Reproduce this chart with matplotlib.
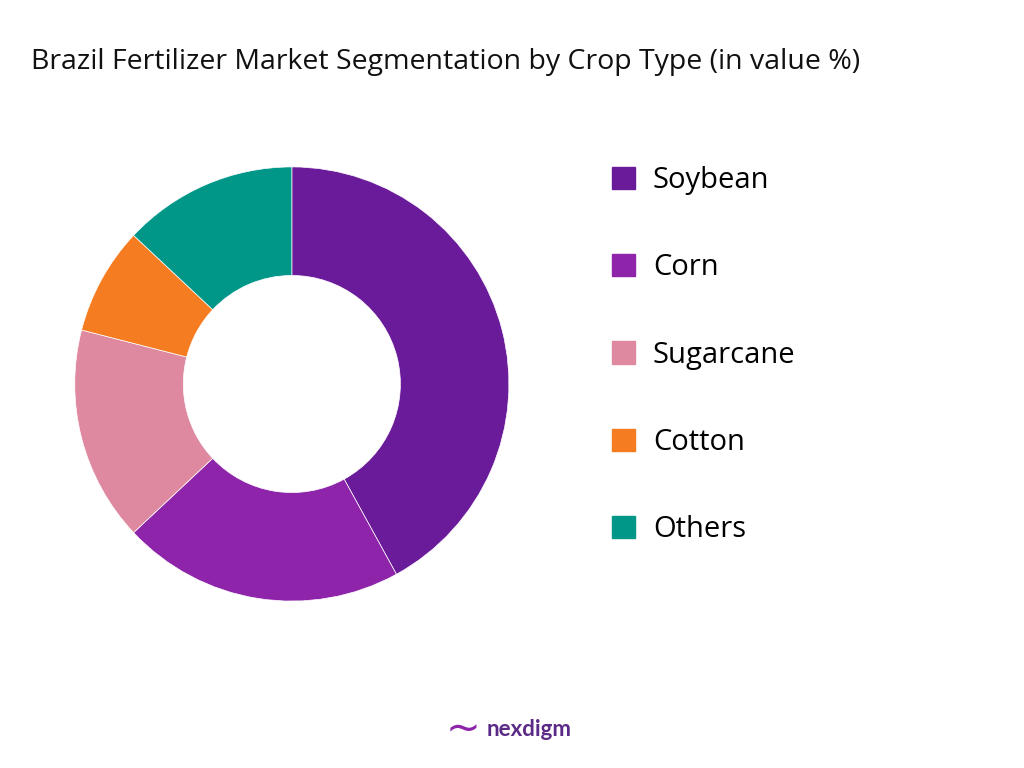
import matplotlib.pyplot as plt
from matplotlib.patches import Patch

labels = ["Soybean", "Corn", "Sugarcane", "Cotton", "Others"]
values = [42, 21, 16, 8, 13]
colors = ["#6A1B9A", "#8E24AA", "#DE89A0", "#F57C20", "#009688"]

fig = plt.figure(figsize=(10.24, 7.68), dpi=100)
fig.text(0.03, 0.91, "Brazil Fertilizer Market Segmentation by Crop Type (in value %)",
         fontsize=20.5, color="#111111", family="Open Sans")
w = 0.53
h = w * 1024 / 768
ax = fig.add_axes([0.285 - w / 2, 0.5 - h / 2, w, h])
ax.pie(values, colors=colors, startangle=90, counterclock=False,
       wedgeprops=dict(width=0.5, edgecolor="white", linewidth=0.5))
ax.set_aspect("equal")
handles = [Patch(color=c, label=l) for c, l in zip(colors, labels)]
fig.legend(handles=handles, loc="upper left", bbox_to_anchor=(0.572, 0.818),
           frameon=False, labelspacing=2.0, handlelength=0.8,
           handleheight=0.8, handletextpad=0.6, prop={"family": "Open Sans", "size": 21})
fig.text(0.475, 0.042, "nexdigm", fontsize=16, color="#5B2A86", weight="bold",
         family="Lato")
fig.text(0.435, 0.035, "~", fontsize=30, color="#8E24AA")
fig.savefig("out.png", dpi=100)
